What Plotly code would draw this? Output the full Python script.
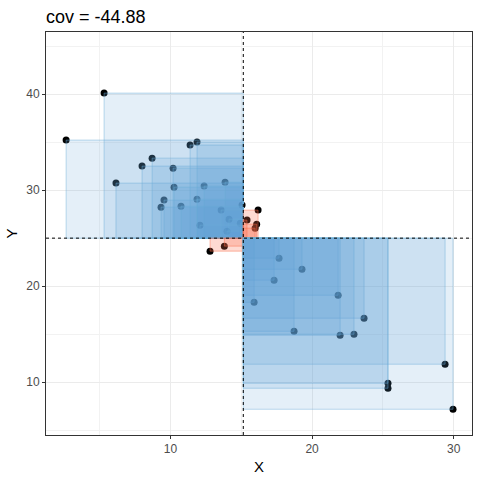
import plotly.graph_objects as go

# points
x_vals = [2.64, 5.32, 6.16, 8.00, 8.71, 10.19, 11.39, 11.88, 10.26, 12.38,
          13.86, 9.55, 9.34, 10.75, 11.88, 13.58, 14.14, 12.09, 14.00, 15.06,
          14.94,
          16.19, 15.41, 16.09, 15.98, 12.80, 13.81,
          17.67, 19.29, 17.32, 15.91, 21.84, 23.67, 18.73, 21.98, 22.96, 25.36,
          25.36, 29.39, 29.95]
y_vals = [35.21, 40.10, 30.73, 32.50, 33.33, 32.29, 34.69, 35.00, 30.31, 30.42,
          30.83, 28.96, 28.23, 28.33, 29.06, 27.92, 26.98, 26.35, 25.73, 28.44,
          26.56,
          27.92, 26.88, 26.46, 26.04, 23.65, 24.17,
          22.92, 21.77, 20.63, 18.33, 19.06, 16.67, 15.31, 14.90, 15.00, 9.90,
          9.38, 11.88, 7.19]
title_text = "cov = -44.88"
x_ticks = [10, 20, 30]
y_ticks = [10, 20, 30, 40]

mean_x = sum(x_vals) / len(x_vals)
mean_y = sum(y_vals) / len(y_vals)

BLUE_FILL = "rgba(92,162,212,0.17)"
BLUE_LINE = "rgba(107,174,214,0.45)"
RED_FILL = "rgba(251,106,74,0.25)"
RED_LINE = "rgba(251,106,74,0.45)"

shapes = []
for xv, yv in zip(x_vals, y_vals):
    pos = (xv - mean_x) * (yv - mean_y) > 0
    shapes.append(dict(
        type="rect", xref="x", yref="y", layer="above",
        x0=xv, x1=mean_x, y0=yv, y1=mean_y,
        fillcolor=RED_FILL if pos else BLUE_FILL,
        line=dict(color=RED_LINE if pos else BLUE_LINE, width=1),
    ))

# dotted mean lines
shapes.append(dict(type="line", xref="x", yref="paper", layer="above",
                   x0=mean_x, x1=mean_x, y0=0, y1=1,
                   line=dict(color="black", width=1, dash="dot")))
shapes.append(dict(type="line", xref="paper", yref="y", layer="above",
                   x0=0, x1=1, y0=mean_y, y1=mean_y,
                   line=dict(color="black", width=1, dash="dot")))

pts = go.Scatter(
    x=x_vals, y=y_vals, mode="markers",
    marker=dict(color="black", size=7),
    hoverinfo="x+y", showlegend=False,
)

axis_common = dict(
    showgrid=True, gridcolor="#EBEBEB", gridwidth=1,
    minor=dict(showgrid=True, gridcolor="#F2F2F2", gridwidth=0.5, dtick=5),
    zeroline=False,
    showline=True, linecolor="#333333", linewidth=1, mirror=True,
    ticks="outside", ticklen=3, tickcolor="#333333",
    tickfont=dict(family="Liberation Sans, Arial", size=12, color="#4D4D4D"),
    title_font=dict(family="Liberation Sans, Arial", size=15, color="black"),
)

layout = go.Layout(
    width=480, height=480,
    margin=dict(l=46, r=8, t=32, b=45),
    paper_bgcolor="white", plot_bgcolor="white",
    title=dict(text=title_text, x=0, xref="paper", xanchor="left",
               y=0.965, yref="container", yanchor="middle",
               font=dict(family="Liberation Sans, Arial", size=18, color="black")),
    xaxis=dict(axis_common, range=[1.22, 31.29], tickvals=x_ticks,
               title=dict(text="X", standoff=6)),
    yaxis=dict(axis_common, range=[4.51, 46.46], tickvals=y_ticks,
               title=dict(text="Y", standoff=4)),
    shapes=shapes,
)

fig = go.Figure(data=[pts], layout=layout)
# page has a default body margin; drop it so the 480px figure fits the window
fig.write_html("out.html", config={"displayModeBar": False},
               post_script="document.body.style.margin='0';")
